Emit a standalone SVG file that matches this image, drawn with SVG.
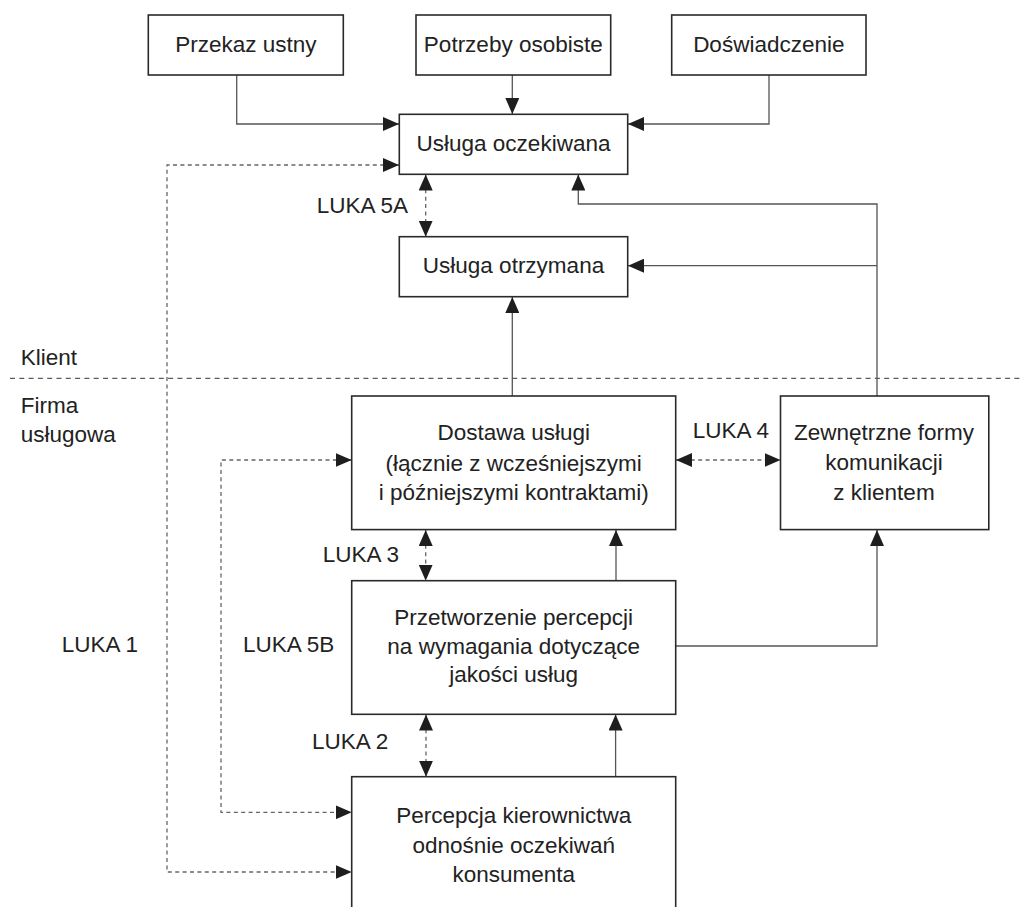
<svg xmlns="http://www.w3.org/2000/svg" width="1021" height="907" viewBox="0 0 1021 907">
<style>
  text { font-family: "Liberation Sans", Arial, sans-serif; font-size: 22.5px; fill: #222; }
  .c { text-anchor: middle; }
  .box { fill: #fff; stroke: #2a2a2a; stroke-width: 1.6; }
  .ln { fill: none; stroke: #555; stroke-width: 1.3; }
  .ds { fill: none; stroke: #666; stroke-width: 1.3; stroke-dasharray: 4 3.4; }
  .sep { fill: none; stroke: #333; stroke-width: 1; stroke-dasharray: 5 4.3; }
</style>
<defs>
  <marker id="ah" markerUnits="userSpaceOnUse" markerWidth="16" markerHeight="14" refX="16" refY="7" orient="auto-start-reverse">
    <path d="M0,0 L16,7 L0,14 z" fill="#1e1e1e"/>
  </marker>
</defs>
<rect width="1021" height="907" fill="#fff"/>

<g id="separator">
  <path class="sep" d="M10,378.3 H1021"/>
  <text x="20.7" y="365">Klient</text>
  <text x="20.7" y="413">Firma</text>
  <text x="20.7" y="441.7">usługowa</text>
</g>

<g id="connectors">
  <path class="ln" d="M236.7,75 V124 H399" marker-end="url(#ah)"/>
  <path class="ln" d="M512.3,75 V114" marker-end="url(#ah)"/>
  <path class="ln" d="M769,75 V124 H628" marker-end="url(#ah)"/>
  <path class="ln" d="M877,396 V204 H578.3 V174.5" marker-end="url(#ah)"/>
  <path class="ln" d="M877,265.7 H628" marker-end="url(#ah)"/>
  <path class="ln" d="M512.3,396 V297" marker-end="url(#ah)"/>
  <path class="ln" d="M616,580.7 V530" marker-end="url(#ah)"/>
  <path class="ln" d="M676,646 H877 V530" marker-end="url(#ah)"/>
  <path class="ln" d="M615.6,776.7 V714.5" marker-end="url(#ah)"/>

  <path class="ds" d="M399,165 H167 V872 H351.7" marker-start="url(#ah)" marker-end="url(#ah)"/>
  <path class="ds" d="M351.7,460 H221 V812.3 H351.7" marker-start="url(#ah)" marker-end="url(#ah)"/>
  <path class="ds" d="M425.7,174.5 V236.7" marker-start="url(#ah)" marker-end="url(#ah)"/>
  <path class="ds" d="M425.7,530 V580.7" marker-start="url(#ah)" marker-end="url(#ah)"/>
  <path class="ds" d="M426,714.5 V776.7" marker-start="url(#ah)" marker-end="url(#ah)"/>
  <path class="ds" d="M676,460 H780.5" marker-start="url(#ah)" marker-end="url(#ah)"/>
</g>

<g id="labels">
  <text x="316.7" y="213">LUKA 5A</text>
  <text x="692.7" y="438">LUKA 4</text>
  <text x="322.7" y="562">LUKA 3</text>
  <text x="243" y="652">LUKA 5B</text>
  <text x="61.7" y="652">LUKA 1</text>
  <text x="312" y="749.3">LUKA 2</text>
</g>

<g id="przekaz-ustny">
  <rect class="box" x="148.3" y="15" width="195" height="60"/>
  <text class="c" x="245.8" y="52">Przekaz ustny</text>
</g>
<g id="potrzeby-osobiste">
  <rect class="box" x="416" y="15" width="194.7" height="60"/>
  <text class="c" x="513.3" y="52">Potrzeby osobiste</text>
</g>
<g id="doswiadczenie">
  <rect class="box" x="671.7" y="15" width="194.3" height="60"/>
  <text class="c" x="768.8" y="52">Doświadczenie</text>
</g>
<g id="usluga-oczekiwana">
  <rect class="box" x="399.3" y="114.3" width="228.4" height="60"/>
  <text class="c" x="513.5" y="151">Usługa oczekiwana</text>
</g>
<g id="usluga-otrzymana">
  <rect class="box" x="399.3" y="236.7" width="228.4" height="60"/>
  <text class="c" x="513.5" y="273">Usługa otrzymana</text>
</g>
<g id="dostawa-uslugi">
  <rect class="box" x="351.7" y="396" width="324" height="133.6"/>
  <text class="c" x="513.7" y="440">Dostawa usługi</text>
  <text class="c" x="513.7" y="470.5">(łącznie z wcześniejszymi</text>
  <text class="c" x="513.7" y="500">i późniejszymi kontraktami)</text>
</g>
<g id="zewnetrzne-formy">
  <rect class="box" x="780.5" y="396" width="208.3" height="133.6"/>
  <text class="c" x="884" y="440">Zewnętrzne formy</text>
  <text class="c" x="884" y="470">komunikacji</text>
  <text class="c" x="884" y="500">z klientem</text>
</g>
<g id="przetworzenie-percepcji">
  <rect class="box" x="351.7" y="580.7" width="324" height="133.6"/>
  <text class="c" x="513.7" y="625">Przetworzenie percepcji</text>
  <text class="c" x="513.7" y="653.5">na wymagania dotyczące</text>
  <text class="c" x="513.7" y="682">jakości usług</text>
</g>
<g id="percepcja-kierownictwa">
  <rect class="box" x="351.7" y="776.7" width="324" height="150"/>
  <text class="c" x="513.7" y="823">Percepcja kierownictwa</text>
  <text class="c" x="513.7" y="853">odnośnie oczekiwań</text>
  <text class="c" x="513.7" y="882">konsumenta</text>
</g>
</svg>
